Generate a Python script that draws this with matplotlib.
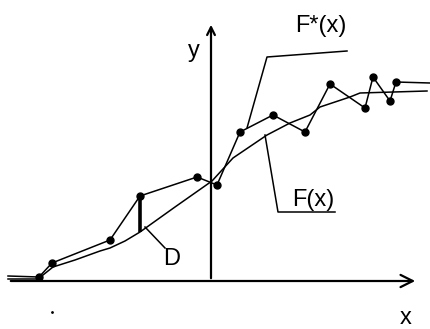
import matplotlib.pyplot as plt

# empirical distribution F*(x): sample points (x relative to y axis, y above x axis)
fstar_x = [-203, -172, -159, -101, -71, -14, 6, 29, 62, 94, 119, 154, 162, 179, 185, 219]
fstar_y = [5, 4, 18, 41, 85, 104, 96, 149, 166, 149, 197, 173, 204, 180, 199, 198]
dots_x = fstar_x[1:-1]
dots_y = fstar_y[1:-1]

# theoretical F(x)
f_x = [-203, -173, -158, -136, -111, -101, -86, -71, -36, 1, 22, 56, 79, 99, 109, 139, 149, 216]
f_y = [2, 2, 14, 21, 30, 33, 40, 49, 74, 100, 123, 146, 158, 166, 174, 184, 188, 190]

# deviation D at one point
d_x = -71
d_lo, d_hi = 49, 85

# leader lines for the labels
fstar_lead_x = [136, 56, 36]
fstar_lead_y = [230, 224, 153]
f_lead_x = [54, 67, 124]
f_lead_y = [146, 69, 69]
d_lead_x = [-66, -46]
d_lead_y = [54, 33]

fig = plt.figure(figsize=(4.3, 3.29), dpi=100)
ax = fig.add_axes([0, 0, 1, 1])
ax.set_xlim(-211, 219)
ax.set_ylim(-48, 281)
ax.axis("off")

# axes with open arrowheads
ax.annotate("", xy=(207, 0), xytext=(-203, 0),
            arrowprops=dict(arrowstyle="->", lw=1.6, color="black", mutation_scale=22))
ax.annotate("", xy=(0, 259), xytext=(0, 0),
            arrowprops=dict(arrowstyle="->", lw=1.6, color="black", mutation_scale=14))

ax.plot(f_x, f_y, color="black", lw=1.1)
ax.plot(fstar_x, fstar_y, color="black", lw=1.1)
ax.plot(dots_x, dots_y, "o", color="black", ms=5)
ax.plot([d_x, d_x], [d_lo, d_hi], color="black", lw=2.6, solid_capstyle="butt")

ax.plot(fstar_lead_x, fstar_lead_y, color="black", lw=1.1)
ax.plot(f_lead_x, f_lead_y, color="black", lw=1.1)
ax.plot(d_lead_x, d_lead_y, color="black", lw=1.1)

font = dict(family="Liberation Sans", fontsize=17, color="black")
ax.text(110, 255, "F*(x)", ha="center", va="center", **font)
ax.text(102, 70, "F(x)", ha="center", va="bottom", **font)
ax.text(-39, 22, "D", ha="center", va="center", **font)
ax.text(-17, 230, "y", ha="center", va="center", **font)
ax.text(195, -37, "x", ha="center", va="center", **font)
ax.plot([-159], [-31], ".", color="black", ms=2)

fig.savefig("out.png", dpi=100)
